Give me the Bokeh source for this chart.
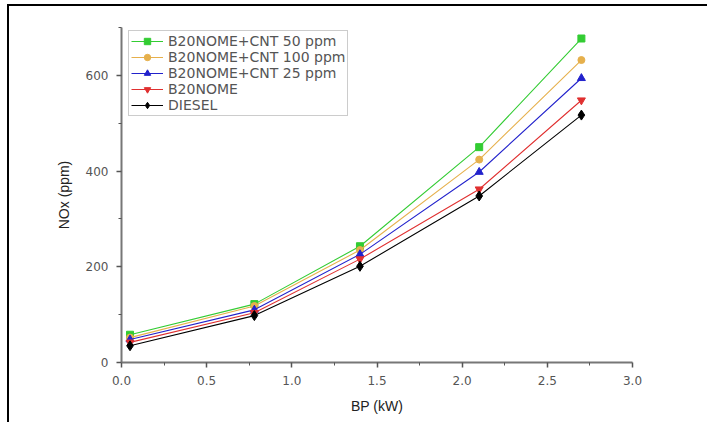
from bokeh.plotting import figure
from bokeh.models import Range1d, Legend, LegendItem, FixedTicker, NumeralTickFormatter
from bokeh.embed import file_html
from bokeh.resources import INLINE

bp = [0.05, 0.78, 1.4, 2.1, 2.7]
cnt50 = [58, 122, 243, 450, 677]
cnt100 = [52, 118, 235, 424, 632]
cnt25 = [48, 110, 226, 398, 594]
b20 = [42, 104, 216, 362, 548]
diesel = [35, 98, 201, 348, 517]

series = [
    ("B20NOME+CNT 50 ppm", cnt50, "#33cc33", "square", 7),
    ("B20NOME+CNT 100 ppm", cnt100, "#e6b04c", "circle", 7),
    ("B20NOME+CNT 25 ppm", cnt25, "#2222cc", "triangle", 8),
    ("B20NOME", b20, "#e03030", "inverted_triangle", 8),
    ("DIESEL", diesel, "#000000", "diamond", 10),
]

p = figure(width=700, height=418, output_backend="svg", toolbar_location=None,
           x_range=Range1d(0, 3.0), y_range=Range1d(0, 700),
           min_border_left=112, min_border_right=77, min_border_top=21, min_border_bottom=62)
p.styles = {"border-top": "2px solid black", "border-left": "2px solid black",
            "margin-left": "7px", "margin-top": "4px"}
p.xgrid.visible = False
p.ygrid.visible = False
p.outline_line_color = None

items = []
for name, ys, col, mk, sz in series:
    r1 = p.line(bp, ys, line_color=col, line_width=1.1)
    r2 = p.scatter(bp, ys, marker=mk, size=sz, fill_color=col, line_color=col)
    items.append(LegendItem(label=name, renderers=[r1, r2]))

for ax in (p.xaxis[0], p.yaxis[0]):
    ax.axis_line_color = "#777777"
    ax.axis_line_width = 2
    ax.major_tick_line_color = "#555555"
    ax.minor_tick_line_color = "#555555"
    ax.major_tick_line_width = 1.5
    ax.major_tick_out = 5
    ax.major_tick_in = 0
    ax.minor_tick_out = 3
    ax.minor_tick_in = 0
    ax.major_label_text_color = "#555555"
    ax.major_label_text_font = "DejaVu Sans"
    ax.major_label_text_font_size = "12px"
    ax.axis_label_text_color = "#222222"
    ax.axis_label_text_font = "Liberation Sans"
    ax.axis_label_text_font_style = "normal"
    ax.axis_label_text_font_size = "14px"

p.xaxis[0].ticker = FixedTicker(ticks=[0, 0.5, 1.0, 1.5, 2.0, 2.5, 3.0],
                                minor_ticks=[0.25, 0.75, 1.25, 1.75, 2.25, 2.75])
p.yaxis[0].ticker = FixedTicker(ticks=[0, 200, 400, 600], minor_ticks=[100, 300, 500, 700])
p.xaxis[0].formatter = NumeralTickFormatter(format="0.0")
p.xaxis[0].major_label_standoff = 8
p.yaxis[0].major_label_standoff = 8
p.xaxis[0].axis_label = "BP (kW)"
p.yaxis[0].axis_label = "NOx (ppm)"
p.xaxis[0].axis_label_standoff = 10
p.yaxis[0].axis_label_standoff = 11

legend = Legend(items=items, location=(7, 246))
legend.border_line_color = "#999999"
legend.border_line_width = 1
legend.label_text_font = "DejaVu Sans"
legend.label_text_font_size = "14px"
legend.label_text_color = "#555555"
legend.glyph_width = 32
legend.glyph_height = 16
legend.label_height = 16
legend.label_standoff = 5
legend.spacing = 0
legend.padding = 2
legend.margin = 0
legend.background_fill_alpha = 1
p.add_layout(legend)

open("out.html", "w").write(file_html(p, INLINE))
